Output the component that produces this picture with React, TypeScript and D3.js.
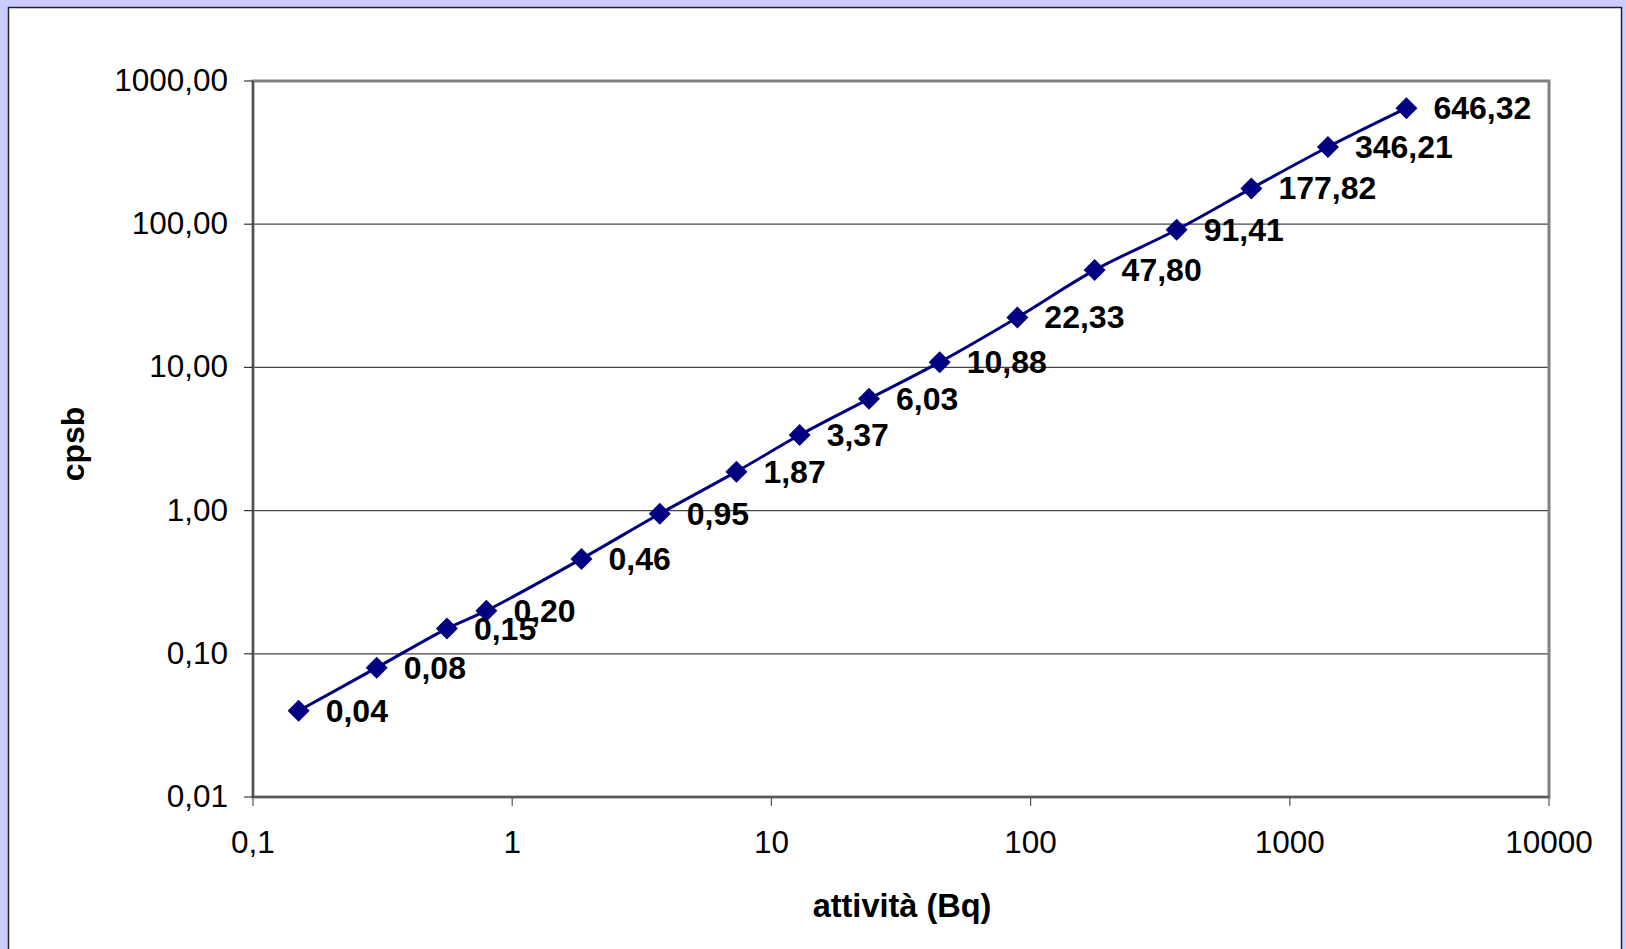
import React from 'react';
import * as d3 from 'd3';

// activity (Bq)
const activity = [0.15, 0.3, 0.56, 0.795, 1.85, 3.71, 7.33, 12.85, 23.8, 44.6, 88.9, 176.6, 366, 711, 1403, 2818];
// cpsb values (from the data labels)
const cpsb = [0.04, 0.08, 0.15, 0.2, 0.46, 0.95, 1.87, 3.37, 6.03, 10.88, 22.33, 47.8, 91.41, 177.82, 346.21, 646.32];

const xTicks = [0.1, 1, 10, 100, 1000, 10000];
const yTicks = [0.01, 0.1, 1, 10, 100, 1000];

const W = 1626;
const H = 949;
const plot = { left: 253, top: 81, right: 1549, bottom: 797 };
const navy = '#000080';
const font = 'Arial, "Liberation Sans", sans-serif';

const comma = (s: string) => s.replace('.', ',');

const App = () => {
  const x = d3.scaleLog().domain([0.1, 10000]).range([plot.left, plot.right]);
  const y = d3.scaleLog().domain([0.01, 1000]).range([plot.bottom, plot.top]);

  const points = activity.map((a, i) => ({ a, c: cpsb[i] }));

  const line = d3
    .line<{ a: number; c: number }>()
    .x(d => x(d.a))
    .y(d => y(d.c))
    .curve(d3.curveCatmullRom);

  const diamond = (cx: number, cy: number, r: number) =>
    `M${cx},${cy - r}L${cx + r},${cy}L${cx},${cy + r}L${cx - r},${cy}Z`;

  return (
    <>
      <style>{'body{margin:0}'}</style>
      <svg width={W} height={H} style={{ display: 'block' }}>
        <rect x={0} y={0} width={W} height={H} fill="#ccccff" />
        <rect x={8.5} y={7.5} width={1613} height={H + 20} fill="#fff" stroke="#222" strokeWidth={1.5} />

        {/* gridlines */}
        {yTicks.slice(1, -1).map(t => (
          <line key={t} x1={plot.left} x2={plot.right} y1={y(t)} y2={y(t)} stroke="#444" strokeWidth={1.2} />
        ))}

        {/* plot area frame */}
        <rect
          x={plot.left}
          y={plot.top}
          width={plot.right - plot.left}
          height={plot.bottom - plot.top}
          fill="none"
          stroke="#808080"
          strokeWidth={3}
        />
        <line x1={plot.left} x2={plot.left} y1={plot.top} y2={plot.bottom} stroke="#333" strokeWidth={1.2} />
        <line x1={plot.left} x2={plot.right} y1={plot.bottom} y2={plot.bottom} stroke="#333" strokeWidth={1.2} />

        {/* y axis ticks + labels */}
        {yTicks.map(t => (
          <g key={t}>
            <line x1={plot.left - 9} x2={plot.left} y1={y(t)} y2={y(t)} stroke="#333" strokeWidth={1.2} />
            <text
              x={228}
              y={y(t) + 10}
              textAnchor="end"
              fontFamily={font}
              fontSize={31.5}
              fill="#000"
            >
              {comma(t.toFixed(2))}
            </text>
          </g>
        ))}

        {/* x axis ticks + labels */}
        {xTicks.map(t => (
          <g key={t}>
            <line x1={x(t)} x2={x(t)} y1={plot.bottom} y2={plot.bottom + 9} stroke="#555" strokeWidth={1.2} />
            <text x={x(t)} y={853} textAnchor="middle" fontFamily={font} fontSize={31.5} fill="#000">
              {comma(String(t))}
            </text>
          </g>
        ))}

        {/* axis titles */}
        <text x={902} y={917} textAnchor="middle" fontFamily={font} fontSize={32.5} fontWeight="bold">
          attività (Bq)
        </text>
        <text
          transform="translate(84,444) rotate(-90)"
          textAnchor="middle"
          fontFamily={font}
          fontSize={32}
          fontWeight="bold"
        >
          cpsb
        </text>

        {/* series */}
        <path d={line(points) || ''} fill="none" stroke={navy} strokeWidth={3} />
        {points.map((p, i) => (
          <path key={i} d={diamond(x(p.a), y(p.c), 11)} fill={navy} />
        ))}
        {points.map((p, i) => (
          <text
            key={i}
            x={x(p.a) + 27}
            y={y(p.c) + 11}
            fontFamily={font}
            fontSize={32}
            fontWeight="bold"
            fill="#000"
          >
            {comma(p.c.toFixed(2))}
          </text>
        ))}
      </svg>
    </>
  );
};

export default App;
